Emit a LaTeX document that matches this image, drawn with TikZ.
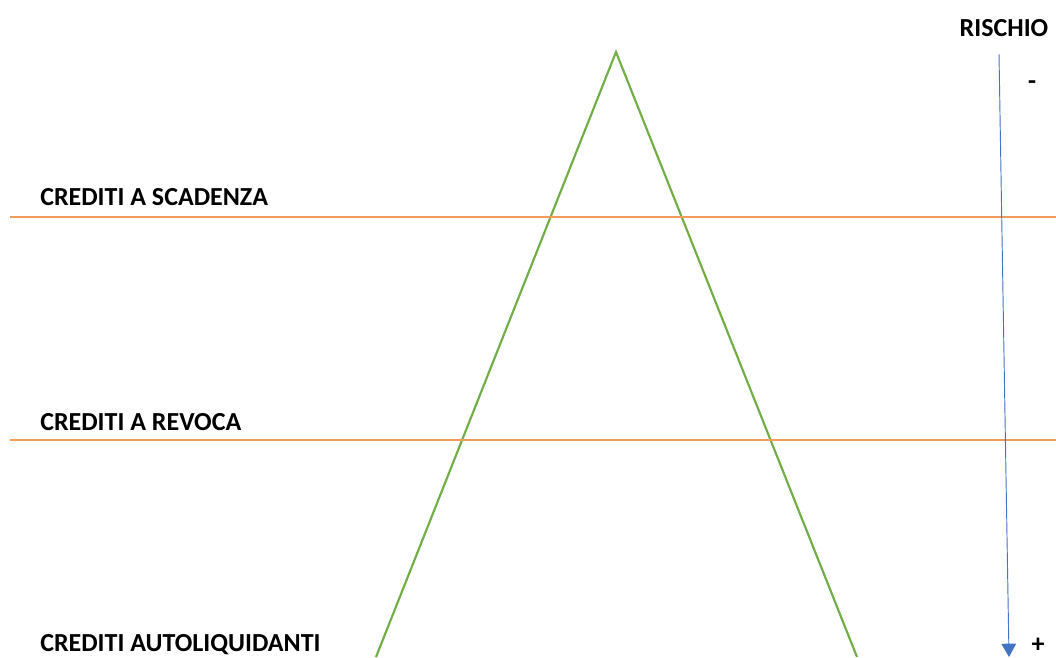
\documentclass[tikz,border=0pt]{standalone}
\usepackage{fontspec}
\setmainfont{Carlito}
\usetikzlibrary{arrows.meta,positioning}
\definecolor{legGreen}{HTML}{70AD47}
\definecolor{bandOrange}{HTML}{F09A5C}
\definecolor{riskBlue}{HTML}{4472C4}

\begin{document}
\begin{tikzpicture}[
  x=0.75pt, y=-0.75pt,
  font=\bfseries\fontsize{19.5}{23}\selectfont,
  lbl/.style={anchor=west, inner sep=0pt},
  leg/.style={draw=legGreen, line width=1.6pt},
  band/.style={draw=bandOrange, line width=0.8pt},
  risk/.style={draw=riskBlue, line width=0.7pt, -{Triangle[width=11pt,length=10pt]}}
]
\useasboundingbox (0,0) rectangle (1056,657);
% triangle
\coordinate (apex) at (616,52);
\coordinate (legL) at (376,657);
\coordinate (legR) at (857,657);
\draw[leg] (legL) -- (apex) -- (legR);
% levels
\coordinate (s0) at (10,217);
\coordinate (s1) at (1056,217);
\coordinate (r0) at (10,440);
\coordinate (r1) at (1056,440);
\draw[band] (s0) -- (s1);
\draw[band] (r0) -- (r1);
\node[lbl] (scad) at (40,197) {CREDITI A SCADENZA};
\node[lbl] (rev) at (40,422) {CREDITI A REVOCA};
\node[lbl] (auto) at (40,645) {CREDITI AUTOLIQUIDANTI};
% risk
\node (risch) at (1004,28) {RISCHIO};
\coordinate (rtop) at (999,54);
\coordinate (rbot) at (1009,657);
\draw[risk] (rtop) -- (rbot);
\node (minus) at (1032,85) {-};
\node (plus) at (1038,645) {+};
\end{tikzpicture}
\end{document}
